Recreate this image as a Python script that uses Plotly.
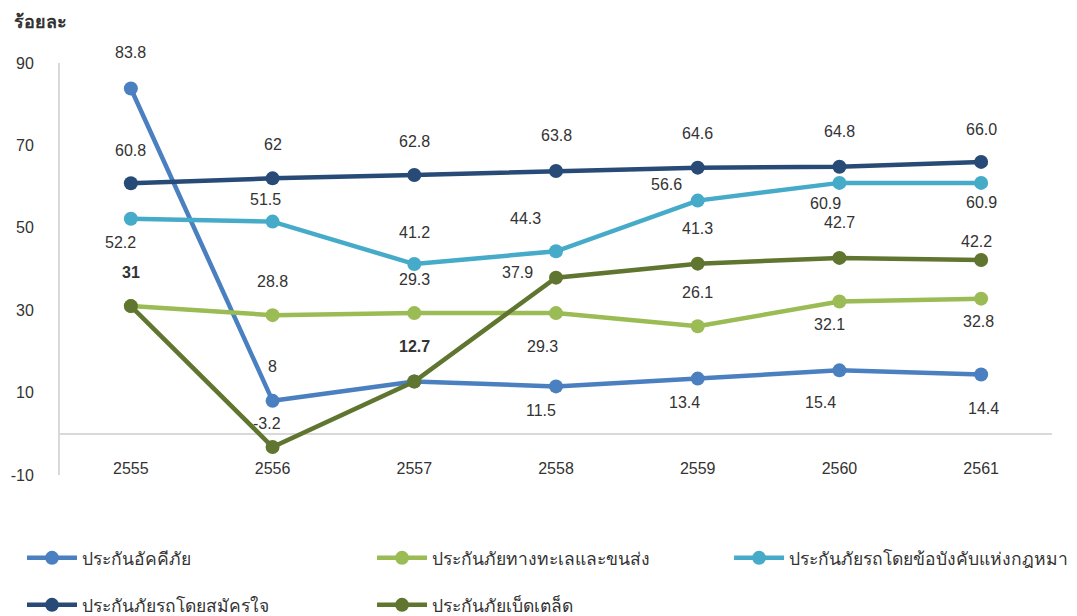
import plotly.graph_objects as go

years = ["2555", "2556", "2557", "2558", "2559", "2560", "2561"]
y_ticks = [-10, 10, 30, 50, 70, 90]

fire = [83.8, 8, 12.7, 11.5, 13.4, 15.4, 14.4]
marine = [31, 28.8, 29.3, 29.3, 26.1, 32.1, 32.8]
motor_compulsory = [52.2, 51.5, 41.2, 44.3, 56.6, 60.9, 60.9]
motor_voluntary = [60.8, 62, 62.8, 63.8, 64.6, 64.8, 66.0]
misc = [31, -3.2, 12.7, 37.9, 41.3, 42.7, 42.2]

fire_txt = ["83.8", "8", "12.7", "11.5", "13.4", "15.4", "14.4"]
marine_txt = ["", "28.8", "29.3", "29.3", "26.1", "32.1", "32.8"]
compulsory_txt = ["52.2", "51.5", "41.2", "44.3", "56.6", "60.9", "60.9"]
voluntary_txt = ["60.8", "62", "62.8", "63.8", "64.6", "64.8", "66.0"]
misc_txt = ["31", "-3.2", "", "37.9", "41.3", "42.7", "42.2"]

series = [
    ("ประกันอัคคีภัย", fire, fire_txt, "#4a7fc0"),
    ("ประกันภัยทางทะเลและขนส่ง", marine, marine_txt, "#9bbb55"),
    ("ประกันภัยรถโดยข้อบังคับแห่งกฎหมาย", motor_compulsory, compulsory_txt, "#45abc8"),
    ("ประกันภัยรถโดยสมัครใจ", motor_voluntary, voluntary_txt, "#274b76"),
    ("ประกันภัยเบ็ดเตล็ด", misc, misc_txt, "#5f7530"),
]

# label offsets in pixels (positive yshift = above the point)
yshifts = [
    [36, 34, 35, -24, -24, -32, -34],
    [0, 34, 34, -33, 34, -23, -23],
    [-24, 22, 32, 33, 16, -21, -20],
    [33, 34, 34, 35, 34, 35, 32],
    [34, 23, 0, 5, 35, 35, 18],
]
xshifts = [
    [0, 0, 0, -15, -13, -19, 2],
    [0, 0, 0, -14, 0, -10, -3],
    [-10, -7, 0, -31, -31, -14, 0],
    [0, 0, 0, 0, 0, 0, 0],
    [0, -6, 0, -39, 0, 0, -5],
]
bold_labels = {(0, 2), (4, 0)}

# one legend box per entry: (legend id, x, y in container coords)
row1, row2 = 0.1072, 0.0309
legend_slots = [
    ("legend", 0.013, row1),
    ("legend2", 0.3380, row1),
    ("legend3", 0.6695, row1),
    ("legend4", 0.013, row2),
    ("legend5", 0.3380, row2),
]

fig = go.Figure()
for i, (name, vals, txt, col) in enumerate(series):
    fig.add_trace(go.Scatter(
        x=years, y=vals, name=name, mode="lines+markers",
        line=dict(color=col, width=4.5),
        marker=dict(color=col, size=14),
        legend=legend_slots[i][0], showlegend=True,
    ))

for i, (name, vals, txt, col) in enumerate(series):
    for j, (v, t) in enumerate(zip(vals, txt)):
        if not t:
            continue
        if (i, j) in bold_labels:
            t = "<b>" + t + "</b>"
        fig.add_annotation(
            x=j, y=v, xref="x", yref="y", text=t, showarrow=False,
            yshift=yshifts[i][j], xshift=xshifts[i][j],
            font=dict(size=16, color="#333333"),
        )

fig.add_annotation(
    x=-48 / 992, y=1 + 41 / 412, xref="paper", yref="paper",
    text="<b>ร้อยละ</b>", showarrow=False, xanchor="left", yanchor="middle",
    font=dict(size=18, color="#333333"),
)

legends = {}
for lid, lx, ly in legend_slots:
    legends[lid] = dict(
        visible=True, orientation="h", xref="container", yref="container",
        x=lx, y=ly, xanchor="left", yanchor="middle",
        itemwidth=50, bgcolor="rgba(0,0,0,0)",
        font=dict(size=17.5, color="#333333"),
    )

fig.update_layout(
    width=1077, height=616, showlegend=True,
    margin=dict(l=52, r=33, t=55, b=149),
    plot_bgcolor="white", paper_bgcolor="white",
    font=dict(family="Arial, Liberation Sans, sans-serif", color="#333333"),
    xaxis=dict(
        type="category", range=[-0.5, 6.5], showgrid=False, showline=False,
        automargin=False, ticks="", anchor="free", position=18 / 412,
        tickfont=dict(size=16, color="#333333"),
    ),
    yaxis=dict(
        range=[-10, 90], tickmode="array", tickvals=y_ticks,
        ticktext=[str(v) for v in y_ticks], showgrid=False, automargin=False,
        showline=True, linecolor="#d9d9d9", linewidth=2,
        zeroline=True, zerolinecolor="#d9d9d9", zerolinewidth=2,
        ticks="", ticklabelstandoff=21, tickfont=dict(size=16, color="#333333"),
    ),
    **legends,
)

fig.write_html("out.html")
